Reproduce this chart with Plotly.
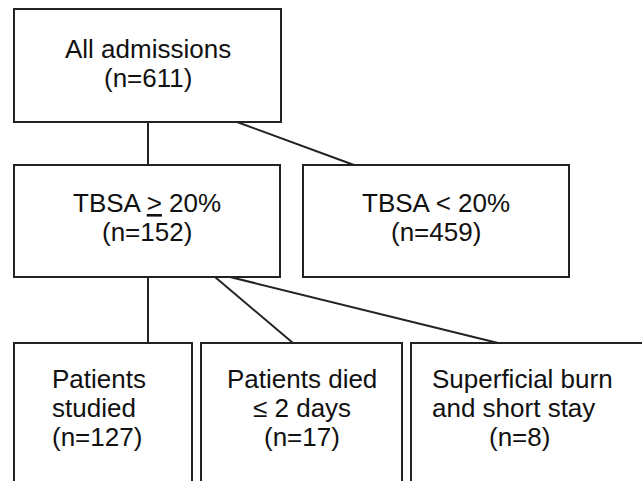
import plotly.graph_objects as go

# ---- data ----
box_titles = [
    ["All admissions"],
    ["TBSA <u>&gt;</u> 20%"],
    ["TBSA &lt; 20%"],
    ["Patients", "studied"],
    ["Patients died", "≤ 2 days"],
    ["Superficial burn", "and short stay"],
]
box_counts = [611, 152, 459, 127, 17, 8]
edges = [(0, 1), (0, 2), (1, 3), (1, 4), (1, 5)]

# ---- layout (pixel geometry) ----
W, H = 642, 481
boxes = [  # x0, x1, y0, y1
    (14, 281, 9, 122),
    (14, 280, 165, 277),
    (303, 569, 165, 277),
    (14, 192, 343, 495),
    (201, 402, 343, 495),
    (411, 660, 343, 495),
]
# connector start x on parent bottom, end x on child top
edge_x = [(148, 148), (237, 354), (148, 148), (215, 293), (230, 498)]
# first line centre y and alignment for each box
first_line_y = [49, 203, 203, 379, 379, 379]
align = ["center", "center", "center", "left", "center", "left"]
left_x = [None, None, None, 50, None, 430]
count_x = [None, None, None, 50, None, 487]
line_step = 29
FONT = dict(family="Liberation Sans, Arial, Helvetica, sans-serif", size=26, color="#111")

fig = go.Figure()
fig.add_trace(go.Scatter(x=[0, W], y=[0, H], mode="markers",
                         marker=dict(opacity=0), hoverinfo="skip", showlegend=False))

shapes = []
for (x0, x1, y0, y1) in boxes:
    shapes.append(dict(type="rect", xref="x", yref="y", x0=x0, x1=x1, y0=y0, y1=y1,
                       line=dict(color="#222", width=2), fillcolor="white", layer="below"))
for (p, c), (xs, xe) in zip(edges, edge_x):
    shapes.append(dict(type="line", xref="x", yref="y", x0=xs, y0=boxes[p][3],
                       x1=xe, y1=boxes[c][2], line=dict(color="#222", width=2)))

annotations = []
for i, (lines, n) in enumerate(zip(box_titles, box_counts)):
    x0, x1, y0, y1 = boxes[i]
    allines = list(lines) + [f"(n={n})"]
    for k, t in enumerate(allines):
        yk = first_line_y[i] + k * line_step
        if align[i] == "left":
            xx = count_x[i] if k == len(allines) - 1 else left_x[i]
            xa = "left"
        else:
            xx = (x0 + x1) / 2
            xa = "center"
        annotations.append(dict(x=xx, y=yk, xref="x", yref="y", text=t, showarrow=False,
                                xanchor=xa, yanchor="middle", font=FONT))

fig.update_layout(
    width=W, height=H, margin=dict(l=0, r=0, t=0, b=0),
    paper_bgcolor="white", plot_bgcolor="white",
    xaxis=dict(range=[0, W], visible=False, fixedrange=True),
    yaxis=dict(range=[H, 0], visible=False, fixedrange=True),
    shapes=shapes, annotations=annotations, showlegend=False,
)
fig.write_html("out.html", config={"displayModeBar": False},
               post_script="document.body.style.margin='0';document.body.style.overflow='hidden';")
